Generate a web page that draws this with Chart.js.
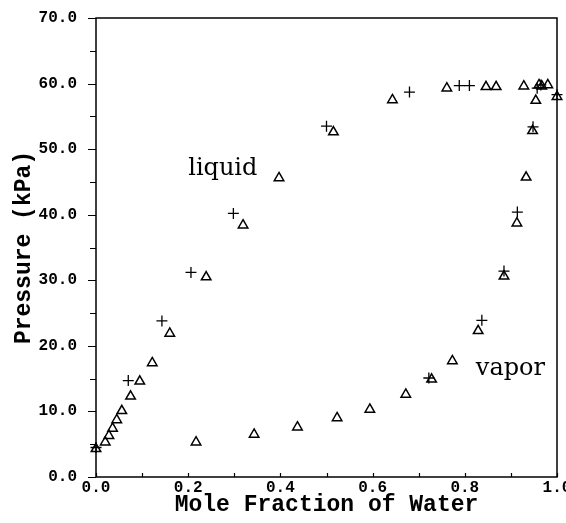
<!DOCTYPE html>
<html><head><meta charset="utf-8">
<script src="https://cdn.jsdelivr.net/npm/chart.js@4/dist/chart.umd.min.js"></script>
<style>html,body{margin:0;padding:0;background:#fff;}#wrap{width:566px;height:523px;}</style>
</head><body><div id="wrap"><canvas id="c" width="566" height="523"></canvas></div>
<script>
// Triangle symbols (open triangles): mole fraction of water, pressure kPa
const triX = [0.000,0.020,0.028,0.036,0.045,0.056,0.075,0.095,0.122,0.160,0.239,0.319,0.397,0.515,0.643,0.761,0.846,0.868,0.928,0.961,0.967,0.980,0.954,1.000,0.947,0.933,0.913,0.885,0.829,0.773,0.728,0.672,0.594,0.523,0.437,0.343,0.217];
const triP = [4.3,5.3,6.3,7.4,8.7,10.1,12.3,14.6,17.4,21.9,30.5,38.4,45.6,52.6,57.5,59.3,59.5,59.5,59.6,59.8,59.6,59.8,57.4,58.0,52.8,45.7,38.7,30.6,22.3,17.7,14.9,12.6,10.3,9.0,7.6,6.5,5.3];
// Plus symbols
const plusX = [0.000,0.070,0.143,0.206,0.298,0.500,0.680,0.788,0.810,0.957,0.965,1.000,0.948,0.914,0.885,0.837,0.722];
const plusP = [4.5,14.7,23.8,31.2,40.2,53.5,58.7,59.7,59.7,59.3,59.8,58.3,53.4,40.4,31.4,23.9,15.1];
// Tick marks
const xTickMarks = [0,0.1,0.2,0.3,0.4,0.5,0.6,0.7,0.8,0.9,1.0];
const yTickMarks = [0,5,10,15,20,25,30,35,40,45,50,55,60,65,70];
// Curve labels
const curveLabels = ['liquid','vapor'];
const labelX = [0.200,0.824];
const labelP = [46.1,15.6];

const toPts = (xs, ys) => xs.map((v,i)=>({x:v,y:ys[i]}));
const monoBold = (s)=>({family:'"Liberation Mono", monospace', weight:'bold', size:s});

const framePlugin = {
  id:'frame',
  beforeDatasetsDraw(chart){
    const {ctx, chartArea:a, scales:{x,y}} = chart;
    ctx.save();
    ctx.strokeStyle='#000'; ctx.lineWidth=1.5;
    ctx.strokeRect(a.left, a.top, a.right-a.left, a.bottom-a.top);
    ctx.lineWidth=1.2;
    ctx.beginPath();
    for (const v of xTickMarks){ const px=Math.round(x.getPixelForValue(v))+0.5; ctx.moveTo(px,a.bottom); ctx.lineTo(px,a.bottom-4); }
    for (const v of yTickMarks){ const py=Math.round(y.getPixelForValue(v))+0.5; const len = v%10===0?8:6; ctx.moveTo(a.left,py); ctx.lineTo(a.left-len,py); }
    ctx.stroke();
    ctx.restore();
  },
  afterDraw(chart){
    const {ctx, scales:{x,y}} = chart;
    ctx.save();
    ctx.font='24px "DejaVu Serif"'; ctx.fillStyle='#000';
    ctx.textAlign='left'; ctx.textBaseline='alphabetic';
    curveLabels.forEach((t,i)=>ctx.fillText(t, x.getPixelForValue(labelX[i]), y.getPixelForValue(labelP[i])));
    ctx.restore();
  }
};

new Chart(document.getElementById('c'), {
  type:'scatter',
  data:{datasets:[
    {label:'triangles', data:toPts(triX,triP), pointStyle:'triangle', pointRadius:5.5, borderColor:'#000', backgroundColor:'rgba(255,255,255,0)', borderWidth:1.5, clip:false},
    {label:'plus', data:toPts(plusX,plusP), pointStyle:'cross', pointRadius:5.5, borderColor:'#000', backgroundColor:'#000', borderWidth:1.3, clip:false}
  ]},
  options:{
    responsive:false, animation:false, devicePixelRatio:1,
    layout:{padding:{left:0,right:9,top:18,bottom:0}},
    plugins:{legend:{display:false}, tooltip:{enabled:false}},
    scales:{
      x:{type:'linear', min:0, max:1,
        ticks:{stepSize:0.2, autoSkip:false, maxRotation:0, color:'#000', font:monoBold(16), padding:1, callback:v=>Number(v).toFixed(1)},
        grid:{display:false, drawTicks:false, tickLength:0}, border:{display:false},
        title:{display:true, text:'Mole Fraction of Water', color:'#000', font:monoBold(23), padding:{top:4,bottom:4}},
        afterFit(s){ s.height=46; s.paddingLeft=0; s.paddingRight=0; }
      },
      y:{type:'linear', min:0, max:70,
        ticks:{stepSize:10, color:'#000', font:monoBold(16), padding:19, callback:v=>Number(v).toFixed(1)},
        grid:{display:false, drawTicks:false, tickLength:0}, border:{display:false},
        title:{display:true, text:'Pressure (kPa)', color:'#000', font:monoBold(23), padding:{top:10,bottom:10}},
        afterFit(s){ s.width=96; s.paddingTop=0; s.paddingBottom=0; }
      }
    }
  },
  plugins:[framePlugin]
});
</script></body></html>
